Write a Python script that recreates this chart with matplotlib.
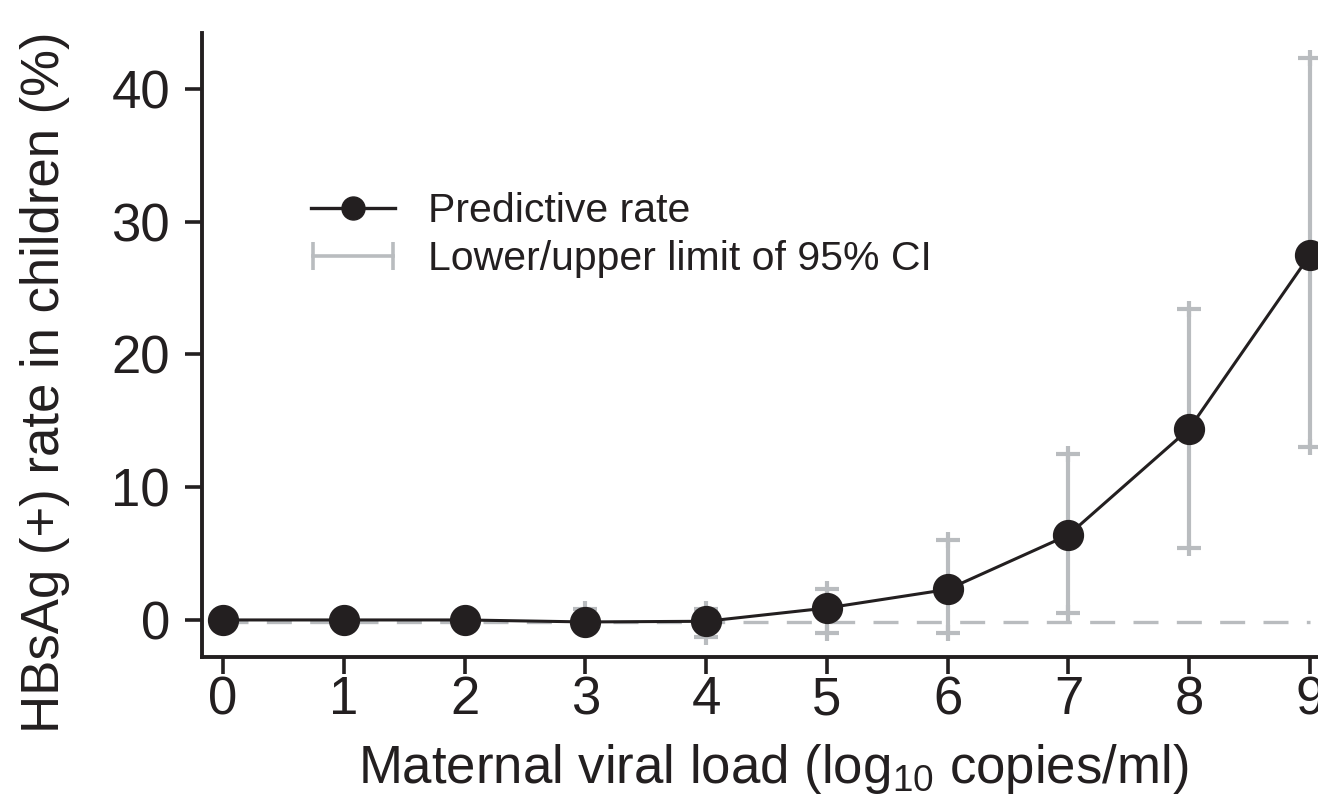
import matplotlib
matplotlib.use("Agg")
import matplotlib.pyplot as plt
from matplotlib.lines import Line2D
from matplotlib.legend_handler import HandlerLine2D
import numpy as np

plt.rcParams['font.family'] = ['Liberation Sans', 'DejaVu Sans']
plt.rcParams['mathtext.fontset'] = 'custom'
plt.rcParams['mathtext.rm'] = 'Liberation Sans'
plt.rcParams['mathtext.it'] = 'Liberation Sans'

# Data
viral_load = [0, 1, 2, 3, 4, 5, 6, 7, 8, 9]
pred_rate = [0.0, 0.0, 0.0, -0.15, -0.1, 0.9, 2.3, 6.4, 14.4, 27.5]
ci_lower = [-0.3, -0.3, -0.3, -0.5, -1.3, -1.0, -1.0, 0.5, 5.4, 13.0]
ci_upper = [0.3, 0.3, 0.3, 0.8, 0.8, 2.35, 6.0, 12.5, 23.4, 42.3]
ref_level = -0.15
xticks = [0, 1, 2, 3, 4, 5, 6, 7, 8, 9]
yticks = [0, 10, 20, 30, 40]

DARK = '#231f20'
GRAY = '#b9bcbf'

fig = plt.figure(figsize=(13.18, 7.97), dpi=100)
ax = fig.add_axes([202 / 1318, 1 - 657 / 797, 1116 / 1318, 624 / 797])

x = np.array(viral_load)
y = np.array(pred_rate)
lo = np.array(ci_lower)
hi = np.array(ci_upper)

ax.plot([x[0], x[-1]], [ref_level, ref_level], color=GRAY, lw=2.4,
        linestyle=(0, (7.5, 5.5)), zorder=1)
ax.errorbar(x, y, yerr=[y - lo, hi - y], fmt='none', ecolor=GRAY,
            elinewidth=3, capsize=8.3, capthick=3, zorder=2)
# small overshoot of the bar through each cap ("+" look)
ax.plot(x, lo, linestyle='none', marker='|', markersize=12, markeredgewidth=3,
        color=GRAY, zorder=2)
ax.plot(x, hi, linestyle='none', marker='|', markersize=12, markeredgewidth=3,
        color=GRAY, zorder=2)
ax.plot(x, y, color=DARK, lw=2.2, marker='o', markersize=21.5,
        markerfacecolor=DARK, markeredgecolor=DARK, zorder=3)

ax.set_xlim(-0.174, 9.066)
ax.set_ylim(-2.79, 44.2)
ax.set_xticks(xticks)
ax.set_yticks(yticks)

for s in ['top', 'right']:
    ax.spines[s].set_visible(False)
for s in ['left', 'bottom']:
    ax.spines[s].set_linewidth(2.8)
    ax.spines[s].set_color(DARK)

ax.tick_params(axis='both', length=12, width=2.6, color=DARK,
               labelsize=38, labelcolor=DARK)
ax.tick_params(axis='x', pad=1)
ax.tick_params(axis='y', pad=11)

fig.text(45 / 1318, 1 - 382 / 797, 'HBsAg (+) rate in children (%)',
         rotation=90, ha='center', va='center', fontsize=38, color=DARK)
fig.text(773 / 1318, 1 - 783 / 797, r'Maternal viral load (log$_{10}$ copies/ml)',
         ha='center', va='baseline', fontsize=38, color=DARK)

h1 = Line2D([], [], color=DARK, lw=2.4, marker='o', markersize=21.5,
            markerfacecolor=DARK, markeredgecolor=DARK)
h2 = Line2D([], [], color=GRAY, lw=2.6, marker='|', markersize=20 / 0.77,
            markeredgewidth=2.6)
leg = ax.legend([h1, h2], ['Predictive rate', 'Lower/upper limit of 95% CI'],
                loc='upper left', bbox_to_anchor=((311 - 202) / 1116, (657 - 192) / 624),
                frameon=False, fontsize=29.5, handlelength=2.05, handletextpad=0.8,
                labelspacing=0.25, borderpad=0, borderaxespad=0, markerscale=0.77,
                handler_map={h1: HandlerLine2D(numpoints=1),
                             h2: HandlerLine2D(numpoints=2, marker_pad=0.05)})
for t in leg.get_texts():
    t.set_color(DARK)

fig.savefig('out.png', dpi=100)
